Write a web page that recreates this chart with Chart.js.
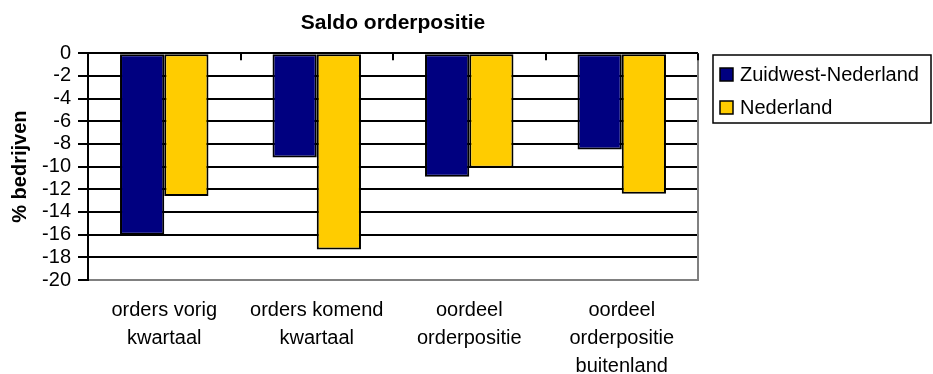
<!DOCTYPE html>
<html>
<head>
<meta charset="utf-8">
<title>Saldo orderpositie</title>
<script src="https://cdn.jsdelivr.net/npm/chart.js@4.4.1/dist/chart.umd.min.js"></script>
<style>
  html, body { margin: 0; padding: 0; background: #fff; }
  #wrap { width: 933px; height: 374px; }
</style>
</head>
<body>
<div id="wrap"><canvas id="chart"></canvas></div>
<script>
// ─── DATA ────────────────────────────────────────
const categories = [
  ['orders vorig', 'kwartaal'],
  ['orders komend', 'kwartaal'],
  ['oordeel', 'orderpositie'],
  ['oordeel', 'orderpositie', 'buitenland']
];
const seriesNames  = ['Zuidwest-Nederland', 'Nederland'];
const zuidwest     = [-16.0, -9.2, -10.9, -8.5];
const nederland    = [-12.6, -17.3, -10.1, -12.4];
const seriesColors = ['#000080', '#FFCC00'];
const yMin = -20, yMax = 0, yStep = 2;

const FONT = "'Liberation Sans', Arial, sans-serif";
Chart.defaults.font.family = FONT;
Chart.defaults.color = '#000';

// gray right edge, small ticks on the top axis between categories
const frame = {
  id: 'frame',
  afterDatasetsDraw(chart) {
    const { ctx, chartArea: a } = chart;
    const x = chart.scales.x;
    const n = categories.length;
    const step = (x.right - x.left) / n;
    ctx.save();
    ctx.strokeStyle = '#808080';
    ctx.lineWidth = 2;
    ctx.beginPath();
    ctx.moveTo(a.right, a.top);
    ctx.lineTo(a.right, a.bottom + 1);
    ctx.stroke();
    ctx.strokeStyle = '#000';
    ctx.beginPath();
    for (let i = 1; i <= n; i++) {
      const px = Math.round(x.left + i * step);
      ctx.moveTo(px, a.top);
      ctx.lineTo(px, a.top + 7);
    }
    ctx.stroke();
    ctx.restore();
  }
};

// boxed legend on the right
const boxLegend = {
  id: 'boxLegend',
  afterDraw(chart) {
    const { ctx, chartArea: a } = chart;
    const x0 = a.right + 15, y0 = 55;
    const w = chart.width - x0 - 2, h = 68;
    ctx.save();
    ctx.strokeStyle = '#000';
    ctx.lineWidth = 1.5;
    ctx.strokeRect(x0, y0, w, h);
    ctx.font = '20px ' + FONT;
    ctx.textBaseline = 'middle';
    chart.data.datasets.forEach((ds, i) => {
      const cy = y0 + 19 + i * 33;
      ctx.fillStyle = ds.backgroundColor;
      ctx.fillRect(x0 + 7, cy - 6, 13, 13);
      ctx.lineWidth = 1.5;
      ctx.strokeRect(x0 + 7, cy - 6, 13, 13);
      ctx.fillStyle = '#000';
      ctx.fillText(ds.label, x0 + 27, cy + 1);
    });
    ctx.restore();
  }
};

new Chart(document.getElementById('chart'), {
  type: 'bar',
  data: {
    labels: categories,
    datasets: [
      { label: seriesNames[0], data: zuidwest,  backgroundColor: seriesColors[0] },
      { label: seriesNames[1], data: nederland, backgroundColor: seriesColors[1] }
    ].map(d => Object.assign(d, {
      borderColor: '#000',
      borderWidth: 2,
      borderSkipped: false,
      categoryPercentage: 0.58,
      barPercentage: 1.0
    }))
  },
  options: {
    responsive: true,
    maintainAspectRatio: false,
    animation: false,
    layout: { padding: { left: 0, right: 235, top: 0, bottom: 0 } },
    plugins: {
      legend: { display: false },
      tooltip: { enabled: false },
      title: {
        display: true,
        text: 'Saldo orderpositie',
        fullSize: false,
        color: '#000',
        font: { size: 21, weight: 'bold' },
        padding: { top: 11, bottom: 17 }
      }
    },
    scales: {
      x: {
        grid: { display: false, drawTicks: false },
        border: { display: false },
        ticks: {
          color: '#000',
          font: { size: 20, lineHeight: 1.38 },
          padding: 17,
          maxRotation: 0,
          autoSkip: false
        },
        afterFit: s => { s.height = 94; }
      },
      y: {
        min: yMin,
        max: yMax,
        border: { display: true, color: '#000', width: 2 },
        grid: {
          color: c => c.tick && c.tick.value === yMin ? '#808080' : '#000',
          lineWidth: 2,
          tickColor: '#000',
          tickLength: 10
        },
        ticks: {
          stepSize: yStep,
          autoSkip: false,
          color: '#000',
          font: { size: 20 },
          padding: 7
        },
        title: {
          display: true,
          text: '% bedrijven',
          color: '#000',
          font: { size: 20, weight: 'bold' },
          padding: { top: 8, bottom: 10 }
        },
        afterFit: s => { s.width = 88; }
      }
    }
  },
  plugins: [frame, boxLegend]
});
</script>
</body>
</html>
